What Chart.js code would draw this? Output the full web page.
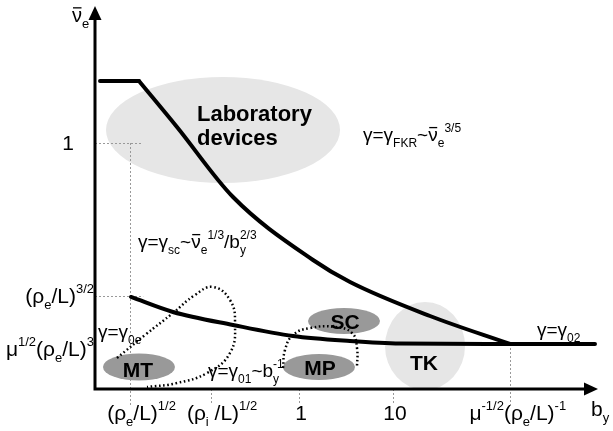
<!DOCTYPE html>
<html>
<head>
<meta charset="utf-8">
<script src="https://cdn.jsdelivr.net/npm/chart.js@4.4.0/dist/chart.umd.min.js"></script>
<style>
  html, body { margin: 0; padding: 0; background: #fff; }
  canvas { display: block; }
</style>
</head>
<body>
<canvas id="regimeChart" width="613" height="431"></canvas>
<script>
// schematic units: both axes run 0..100 (b_y across, nu_e up, both log-like)
const upperFlatX = [1.0, 8.76];
const upperFlatY = [80.84, 80.84];
const upperX = [8.76, 16.33, 27.49, 43.43, 50.80, 66.73, 82.67];
const upperY = [80.84, 68.77, 50.39, 33.86, 28.08, 19.16, 11.81];
const lowerX = [7.17, 15.54, 27.49, 39.44, 50.80, 60.76, 82.67];
const lowerY = [24.15, 20.21, 16.80, 13.91, 12.60, 11.94, 11.81];
const plateauX = [82.67, 99.6];
const plateauY = [11.81, 11.81];

// dotted loops (MT range and MP/SC range)
const mtLoopX = [4.38, 9.96, 15.54, 19.92, 23.51, 26.89, 27.89, 26.89, 22.31, 16.33, 10.36];
const mtLoopY = [8.14, 14.17, 19.95, 24.67, 26.77, 23.36, 17.32, 9.45, 4.20, 1.57, 0.52];
const mpLoopX = [37.45, 37.85, 39.44, 42.83, 47.81, 51.20, 52.19, 52.19];
const mpLoopY = [5.51, 10.24, 14.17, 16.01, 16.27, 14.70, 10.76, 5.51];

// device regions
const regionNames = ['', 'TK', 'MT', 'MP', 'SC'];
const regionX = [25.50, 65.74, 8.76, 44.62, 49.60];
const regionY = [67.98, 11.29, 5.77, 5.77, 17.85];
const regionRX = [23.31, 7.97, 7.17, 7.17, 7.17];
const regionRY = [13.91, 11.55, 3.54, 3.41, 3.41];
const regionLabelX = [20.32, 65.54, 8.57, 44.82, 49.80];
const regionLabelY = [70.34, 6.82, 4.99, 5.51, 17.59];
const regionShade = ['#e6e6e6', '#e6e6e6', '#999999', '#999999', '#999999'];

// ticks
const xTickVals = [7.07, 23.11, 40.64, 59.36, 82.67];
const xGuideFrom = [64.57, 0, 0, 0, 11.81];
const xTickLabels = [
  [['(ρ'], ['e', 'sub'], ['/L)'], ['1/2', 'sup']],
  [['(ρ'], ['i', 'sub'], [' /L)'], ['1/2', 'sup']],
  [['1']],
  [['10']],
  [['μ'], ['-1/2', 'sup'], ['(ρ'], ['e', 'sub'], ['/L)'], ['-1', 'sup']]
];
const yTickVals = [64.57, 24.41, 10.6];
const yGuideTo = [9.4, 9.6, 0];
const yTickLabels = [
  [['1']],
  [['(ρ'], ['e', 'sub'], ['/L)'], ['3/2', 'sup']],
  [['μ'], ['1/2', 'sup'], ['(ρ'], ['e', 'sub'], ['/L)'], ['3', 'sup']]
];

// regime formulas
const formulaX = [53.39, 8.57, 0.6, 22.51, 88.05];
const formulaY = [65.09, 37.0, 13.39, 3.15, 13.91];
const formulas = [
  [['γ=γ'], ['FKR', 'sub'], ['~'], ['ν', 'bar'], ['e', 'sub'], ['3/5', 'sup']],
  [['γ=γ'], ['sc', 'sub'], ['~'], ['ν', 'bar'], ['e', 'sub'], ['1/3', 'sup'], ['/b'], ['y', 'sub'], ['2/3', 'stk']],
  [['γ=γ'], ['0e', 'sub']],
  [['γ=γ'], ['01', 'sub'], ['~b'], ['y', 'sub'], ['-1', 'stk']],
  [['γ=γ'], ['02', 'sub']]
];

const FONT = '"Liberation Sans", Arial, sans-serif';

function richText(ctx, segs, x, y, size, align, bold) {
  const small = Math.round(size * 0.64);
  let cur = 0, prevStart = 0, prevW = 0;
  const items = [];
  segs.forEach(([t, k]) => {
    const sz = (k === 'sub' || k === 'sup' || k === 'stk') ? small : size;
    ctx.font = (bold ? 'bold ' : '') + sz + 'px ' + FONT;
    const w = ctx.measureText(t).width;
    let sx = cur;
    if (k === 'stk') { sx = prevStart; cur = prevStart + Math.max(prevW, w); }
    else cur += w;
    const dy = k === 'sub' ? size * 0.3 : (k === 'sup' || k === 'stk') ? -size * 0.48 : 0;
    items.push({ t, sz, sx, dy, w, bar: k === 'bar' });
    prevStart = sx; prevW = w;
  });
  const x0 = align === 'center' ? x - cur / 2 : align === 'right' ? x - cur : x;
  ctx.fillStyle = '#000';
  ctx.textBaseline = 'alphabetic';
  ctx.textAlign = 'left';
  items.forEach(it => {
    ctx.font = (bold ? 'bold ' : '') + it.sz + 'px ' + FONT;
    ctx.fillText(it.t, x0 + it.sx, y + it.dy);
    if (it.bar) ctx.fillRect(x0 + it.sx + 1, y - size * 0.74, it.w - 1.5, 1.3);
  });
  return cur;
}

const schematic = {
  id: 'schematic',
  beforeDatasetsDraw(chart) {
    const { ctx, chartArea: a, scales: { x, y } } = chart;
    ctx.save();
    regionNames.forEach((n, i) => {
      const cx = x.getPixelForValue(regionX[i]), cy = y.getPixelForValue(regionY[i]);
      const rx = x.getPixelForValue(regionX[i] + regionRX[i]) - cx;
      const ry = cy - y.getPixelForValue(regionY[i] + regionRY[i]);
      ctx.fillStyle = regionShade[i];
      ctx.beginPath();
      ctx.ellipse(cx, cy, rx, ry, 0, 0, Math.PI * 2);
      ctx.fill();
    });
    // guide lines
    ctx.strokeStyle = '#999';
    ctx.lineWidth = 1;
    ctx.setLineDash([2, 2]);
    yTickVals.forEach((v, i) => {
      if (!yGuideTo[i]) return;
      const py = Math.round(y.getPixelForValue(v)) + 0.5;
      ctx.beginPath();
      ctx.moveTo(a.left, py);
      ctx.lineTo(x.getPixelForValue(yGuideTo[i]), py);
      ctx.stroke();
    });
    xTickVals.forEach((v, i) => {
      const pxv = Math.round(x.getPixelForValue(v)) + 0.5;
      ctx.beginPath();
      ctx.moveTo(pxv, y.getPixelForValue(xGuideFrom[i]));
      ctx.lineTo(pxv, a.bottom + 16);
      ctx.stroke();
    });
    ctx.restore();
  },
  afterDatasetsDraw(chart) {
    const { ctx, chartArea: a, scales: { x, y } } = chart;
    ctx.save();
    // axes with arrow heads
    ctx.strokeStyle = '#000';
    ctx.fillStyle = '#000';
    ctx.lineWidth = 3;
    ctx.beginPath();
    ctx.moveTo(a.left, 18);
    ctx.lineTo(a.left, a.bottom);
    ctx.lineTo(a.right - 12, a.bottom);
    ctx.stroke();
    ctx.beginPath();
    ctx.moveTo(a.left, a.top - 2);
    ctx.lineTo(a.left - 6.5, a.top + 12);
    ctx.lineTo(a.left + 6.5, a.top + 12);
    ctx.closePath();
    ctx.fill();
    ctx.beginPath();
    ctx.moveTo(a.right + 1, a.bottom);
    ctx.lineTo(a.right - 13, a.bottom - 6.5);
    ctx.lineTo(a.right - 13, a.bottom + 6.5);
    ctx.closePath();
    ctx.fill();

    // axis titles
    richText(ctx, [['ν', 'bar'], ['e', 'sub']], a.left - 23, 22, 20, 'left');
    richText(ctx, [['b'], ['y', 'sub']], 591, a.bottom + 27, 21, 'left');

    // tick labels
    xTickVals.forEach((v, i) => {
      const segs = xTickLabels[i];
      const last = segs[segs.length - 1];
      let shift = 0;
      if (last[1] === 'sup') {
        ctx.font = Math.round(21 * 0.64) + 'px ' + FONT;
        shift = ctx.measureText(last[0]).width / 2;
      }
      richText(ctx, segs, x.getPixelForValue(v) + shift + 2, a.bottom + 31, 21, 'center');
    });
    yTickVals.forEach((v, i) => {
      const right = i === 0 ? a.left - 21 : a.left - 1;
      richText(ctx, yTickLabels[i], right, y.getPixelForValue(v) + 7, 21, 'right');
    });

    // regime formulas
    formulas.forEach((f, i) => {
      richText(ctx, f, x.getPixelForValue(formulaX[i]), y.getPixelForValue(formulaY[i]), 19, 'left');
    });

    // region names
    ctx.fillStyle = '#000';
    ctx.textAlign = 'left';
    ctx.textBaseline = 'alphabetic';
    ctx.font = 'bold 22px ' + FONT;
    const lx = x.getPixelForValue(regionLabelX[0]), ly = y.getPixelForValue(regionLabelY[0]);
    ctx.fillText('Laboratory', lx, ly);
    ctx.fillText('devices', lx, ly + 24);
    ctx.font = 'bold 21px ' + FONT;
    ctx.textAlign = 'center';
    ctx.textBaseline = 'middle';
    regionNames.forEach((n, i) => {
      if (!n) return;
      ctx.fillText(n, x.getPixelForValue(regionLabelX[i]), y.getPixelForValue(regionLabelY[i]) + 1);
    });
    ctx.restore();
  }
};

function pts(xs, ys) { return xs.map((v, i) => ({ x: v, y: ys[i] })); }

const solid = { borderColor: '#000', borderWidth: 4, pointRadius: 0, showLine: true, fill: false, borderCapStyle: 'round', clip: false };
const dotted = { borderColor: '#000', borderWidth: 2.5, pointRadius: 0, showLine: true, fill: false, borderDash: [1.6, 2.6], tension: 0.45, clip: false };

new Chart(document.getElementById('regimeChart').getContext('2d'), {
  type: 'scatter',
  data: {
    datasets: [
      { ...solid, data: pts(upperFlatX, upperFlatY) },
      { ...solid, data: pts(upperX, upperY), cubicInterpolationMode: 'monotone' },
      { ...solid, data: pts(lowerX, lowerY), cubicInterpolationMode: 'monotone' },
      { ...solid, data: pts(plateauX, plateauY) },
      { ...dotted, data: pts(mtLoopX, mtLoopY) },
      { ...dotted, data: pts(mpLoopX, mpLoopY) }
    ]
  },
  options: {
    responsive: false,
    animation: false,
    layout: { padding: { left: 95, right: 16, top: 8, bottom: 42 } },
    plugins: { legend: { display: false }, tooltip: { enabled: false }, title: { display: false } },
    scales: {
      x: { type: 'linear', min: 0, max: 100, display: false },
      y: { type: 'linear', min: 0, max: 100, display: false }
    }
  },
  plugins: [schematic]
});
</script>
</body>
</html>
